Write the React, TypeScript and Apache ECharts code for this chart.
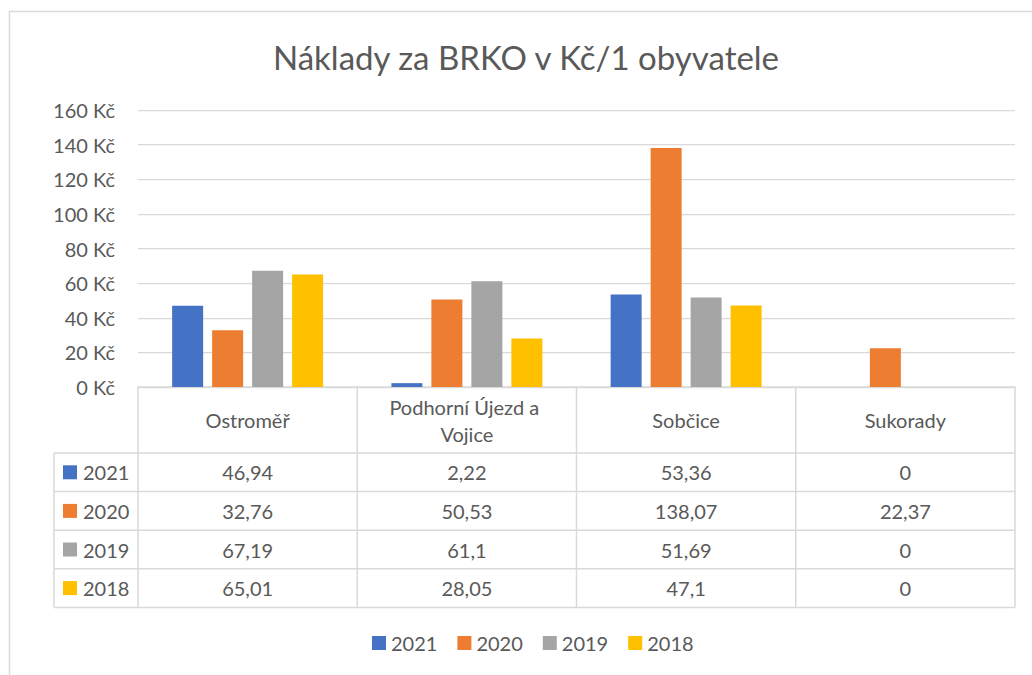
import React, { useEffect, useRef } from "react";
import * as echarts from "echarts";

const title = "Náklady za BRKO v Kč/1 obyvatele";
const categories = ["Ostroměř", "Podhorní Újezd a Vojice", "Sobčice", "Sukorady"];
const seriesNames = ["2021", "2020", "2019", "2018"];
const v2021 = [46.94, 2.22, 53.36, 0];
const v2020 = [32.76, 50.53, 138.07, 22.37];
const v2019 = [67.19, 61.1, 51.69, 0];
const v2018 = [65.01, 28.05, 47.1, 0];
const seriesValues = [v2021, v2020, v2019, v2018];
const colors = ["#4472C4", "#ED7D31", "#A5A5A5", "#FFC000"];

const FONT = "Lato, 'Open Sans', sans-serif";
const TEXT = "#595959";
const LINE = "#d9d9d9";

const GRID_LEFT = 138;
const GRID_RIGHT_X = 1015;
const GRID_TOP = 110;
const AXIS_Y = 387;
const HEADER_BOTTOM = 453;
const ROW_H = 38.6;
const KEY_LEFT = 54;

const fmt = (v: number) => String(v).replace(".", ",");

export default function App() {
  const ref = useRef<HTMLDivElement>(null);
  useEffect(() => {
    if (!ref.current) return;
    const chart = echarts.init(ref.current, null, { renderer: "svg" });
    const colW = (GRID_RIGHT_X - GRID_LEFT) / categories.length;
    const tableBottom = HEADER_BOTTOM + ROW_H * seriesNames.length;
    const graphics: any[] = [];
    graphics.push({
      type: "rect",
      z: 0,
      shape: { x: 9.5, y: 11.5, width: 1200, height: 1000 },
      style: { fill: "none", stroke: LINE, lineWidth: 1.5 },
    });
    graphics.push({
      type: "text",
      x: 526,
      y: 57,
      style: {
        text: title,
        fill: TEXT,
        fontSize: 33,
        fontFamily: FONT,
        align: "center",
        textAlign: "center",
        verticalAlign: "middle",
        textVerticalAlign: "middle",
      },
    });
    for (let i = 0; i <= seriesNames.length; i++) {
      const y = HEADER_BOTTOM + ROW_H * i;
      graphics.push({
        type: "line",
        shape: { x1: KEY_LEFT, y1: y, x2: GRID_RIGHT_X, y2: y },
        style: { stroke: LINE, lineWidth: 1.5 },
      });
    }
    graphics.push({
      type: "line",
      shape: { x1: KEY_LEFT, y1: HEADER_BOTTOM, x2: KEY_LEFT, y2: tableBottom },
      style: { stroke: LINE, lineWidth: 1.5 },
    });
    for (let c = 0; c <= categories.length; c++) {
      const x = GRID_LEFT + colW * c;
      graphics.push({
        type: "line",
        shape: { x1: x, y1: AXIS_Y, x2: x, y2: tableBottom },
        style: { stroke: LINE, lineWidth: 1.5 },
      });
    }
    seriesNames.forEach((name, r) => {
      const cy = HEADER_BOTTOM + ROW_H * r + ROW_H / 2;
      graphics.push({
        type: "rect",
        shape: { x: 63, y: cy - 7, width: 14, height: 14 },
        style: { fill: colors[r] },
      });
      graphics.push({
        type: "text",
        x: 83,
        y: cy,
        style: {
          text: name,
          fill: TEXT,
          fontSize: 20,
          fontFamily: FONT,
          align: "left",
          textAlign: "left",
          verticalAlign: "middle",
          textVerticalAlign: "middle",
        },
      });
      seriesValues[r].forEach((v, c) => {
        graphics.push({
          type: "text",
          x: GRID_LEFT + colW * c + colW / 2,
          y: cy,
          style: {
            text: fmt(v),
            fill: TEXT,
            fontSize: 20,
            fontFamily: FONT,
            align: "center",
            textAlign: "center",
            verticalAlign: "middle",
            textVerticalAlign: "middle",
          },
        });
      });
    });

    chart.setOption({
      animation: false,
      backgroundColor: "#ffffff",
      textStyle: { fontFamily: FONT },
      grid: {
        left: GRID_LEFT,
        right: 1032 - GRID_RIGHT_X,
        top: GRID_TOP,
        bottom: 675 - AXIS_Y,
        containLabel: false,
      },
      legend: {
        data: seriesNames,
        left: 367,
        top: 628,
        itemWidth: 14,
        itemHeight: 14,
        itemGap: 20,
        icon: "rect",
        textStyle: { color: TEXT, fontSize: 20, fontFamily: FONT },
      },
      xAxis: {
        type: "category",
        data: categories,
        axisLine: { show: true, lineStyle: { color: LINE, width: 1.5 } },
        axisTick: { show: false },
        axisLabel: {
          color: TEXT,
          fontSize: 20,
          fontFamily: FONT,
          margin: 33,
          verticalAlign: "middle",
          lineHeight: 27,
          width: 190,
          overflow: "break",
          interval: 0,
        },
      },
      yAxis: {
        type: "value",
        min: 0,
        max: 160,
        interval: 20,
        axisLine: { show: false },
        axisTick: { show: false },
        axisLabel: {
          color: TEXT,
          fontSize: 20,
          fontFamily: FONT,
          margin: 23,
          formatter: "{value} Kč",
        },
        splitLine: { lineStyle: { color: LINE, width: 1.25 } },
      },
      series: seriesNames.map((name, i) => ({
        name,
        type: "bar",
        data: seriesValues[i],
        barWidth: 31,
        barGap: "29%",
        itemStyle: { color: colors[i] },
      })),
      graphic: graphics,
    });
    return () => chart.dispose();
  }, []);
  return (
    <div
      ref={ref}
      style={{ position: "fixed", left: 0, top: 0, width: 1032, height: 675 }}
    />
  );
}
